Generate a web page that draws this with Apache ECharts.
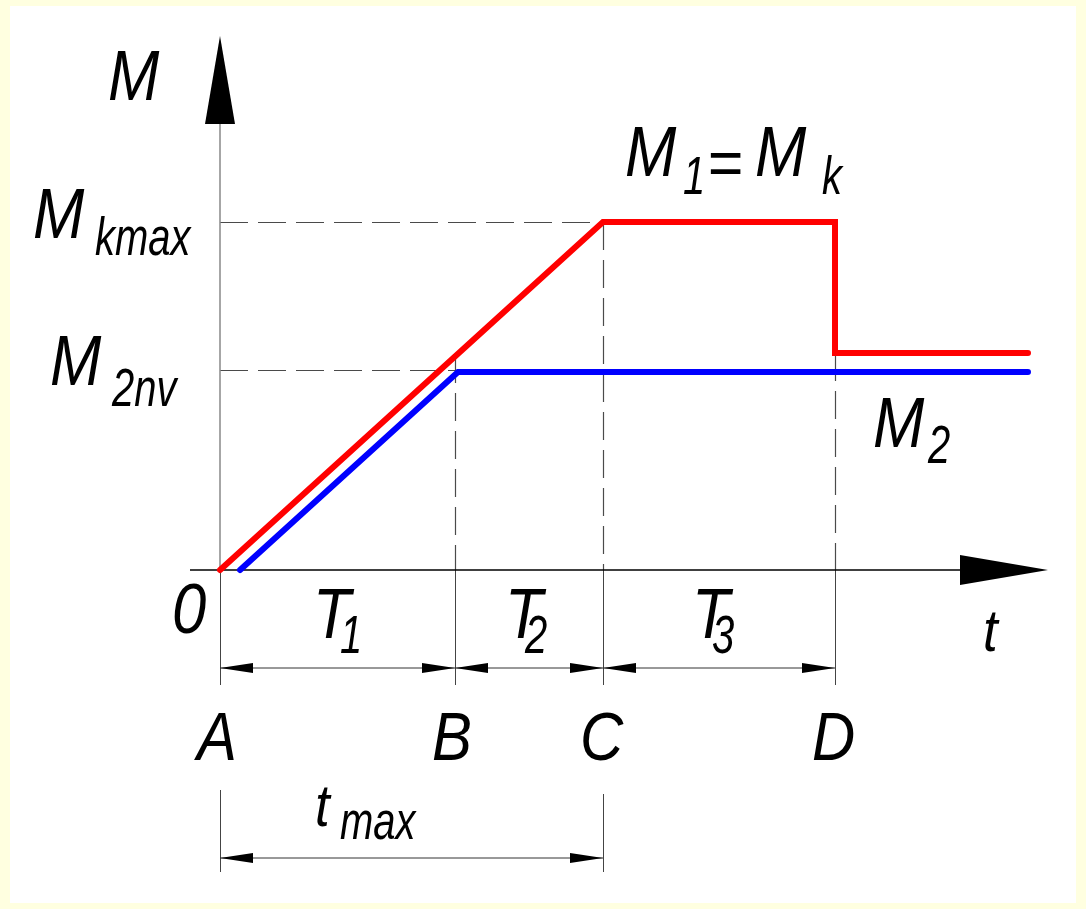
<!DOCTYPE html>
<html>
<head>
<meta charset="utf-8">
<script src="https://cdn.jsdelivr.net/npm/echarts@6/dist/echarts.min.js"></script>
<style>
html, body { margin: 0; padding: 0; background: #ffffe0; }
#main { width: 1086px; height: 909px; }
</style>
</head>
<body>
<div id="main"></div>
<script>
// marks on the t axis (picture units)
var markNames = ['A', 'B', 'C', 'D'];
var markTimes = [0, 235, 383, 615];
var tEnd = 808;
var tAxisEnd = 828;
var mAxisEnd = 534;

// torque levels
var mKmax = 348;
var m2nv = 200;
var m1Tail = 217;

// M1 = Mk (red) and M2 (blue)
var m1Points = [[0, 0], [383, 348], [615, 348], [615, 217], [808, 217]];
var m2Points = [[20, 0], [238, 198], [808, 198]];

// dashed helper lines
var guideLines = [
    [[0, mKmax], [383, mKmax]],
    [[0, m2nv], [235, m2nv]],
    [[235, 215], [235, 0]],
    [[383, mKmax], [383, 0]],
    [[615, m1Tail], [615, 0]]
];

// extension lines below the t axis: [t, from, to]
var extLines = [[0, 0, -115], [235, 0, -115], [383, 0, -115], [615, 0, -115], [0, -220, -302], [383, -224, -302]];

// dimension lines: [from, to, level]
var dimRows = [[0, 235, -98], [235, 383, -98], [383, 615, -98], [0, 383, -288]];

var FONT = "'Liberation Sans', Arial, sans-serif";
var BIG = 70, SMALL = 54;

var chart = echarts.init(document.getElementById('main'));

function label(text, x, base, size, sx) {
    return {
        type: 'text', x: x, y: base - 0.35 * size, z: 20,
        scaleX: sx || (size >= 60 ? 0.88 : 0.74),
        style: {
            text: text, fontSize: size, fontFamily: FONT, fontStyle: 'italic',
            fill: '#000', align: 'left', verticalAlign: 'middle'
        }
    };
}

function renderDim(params, api) {
    var a = api.coord([api.value(0), api.value(2)]);
    var b = api.coord([api.value(1), api.value(2)]);
    var L = 33, H = 5;
    return {
        type: 'group',
        children: [
            { type: 'line', shape: { x1: a[0], y1: a[1], x2: b[0], y2: b[1] }, style: { stroke: '#333', lineWidth: 1 } },
            { type: 'polygon', shape: { points: [[a[0], a[1]], [a[0] + L, a[1] - H], [a[0] + L, a[1] + H]] }, style: { fill: '#000' } },
            { type: 'polygon', shape: { points: [[b[0], b[1]], [b[0] - L, b[1] - H], [b[0] - L, b[1] + H]] }, style: { fill: '#000' } }
        ]
    };
}

// axis line with a solid arrow head at its end
function axisRenderer(color, width) {
    return function (params, api) {
        var a = api.coord([api.value(0), api.value(1)]);
        var b = api.coord([api.value(2), api.value(3)]);
        var dx = b[0] - a[0], dy = b[1] - a[1];
        var len = Math.sqrt(dx * dx + dy * dy);
        var ux = dx / len, uy = dy / len;
        var L = 88, H = 15;
        var bx = b[0] - ux * L, by = b[1] - uy * L;
        return {
            type: 'group',
            children: [
                { type: 'line', shape: { x1: a[0], y1: a[1], x2: bx, y2: by }, style: { stroke: color, lineWidth: width } },
                { type: 'polygon', shape: { points: [[b[0], b[1]], [bx - uy * H, by + ux * H], [bx + uy * H, by - ux * H]] }, style: { fill: '#000' } }
            ]
        };
    };
}

chart.setOption({
    backgroundColor: '#ffffe0',
    animation: false,
    grid: { left: 190, right: 38, top: 36, bottom: 29 },
    xAxis: { type: 'value', min: -30, max: tAxisEnd, show: false },
    yAxis: { type: 'value', min: -310, max: mAxisEnd, show: false },
    series: [
        {
            type: 'lines', coordinateSystem: 'cartesian2d', z: 2, silent: true,
            lineStyle: { color: '#4a4a4a', width: 1.2, type: [28, 10], opacity: 1 },
            data: guideLines.map(function (c) { return { coords: c }; })
        },
        {
            type: 'lines', coordinateSystem: 'cartesian2d', z: 2, silent: true,
            lineStyle: { color: '#444', width: 1, type: 'solid', opacity: 1 },
            data: extLines.map(function (e) { return { coords: [[e[0], e[1]], [e[0], e[2]]] }; })
        },
        {
            type: 'custom', renderItem: renderDim, clip: false, z: 3, silent: true,
            encode: { x: [0, 1], y: 2 }, data: dimRows
        },
        {
            type: 'custom', renderItem: axisRenderer('#000', 1.5), clip: false, z: 3, silent: true,
            encode: { x: [0, 2], y: [1, 3] }, data: [[-30, 0, tAxisEnd, 0]]
        },
        {
            type: 'custom', renderItem: axisRenderer('#888', 1.5), clip: false, z: 3, silent: true,
            encode: { x: [0, 2], y: [1, 3] }, data: [[0, 0, 0, mAxisEnd]]
        },
        {
            name: 'M1 = Mk', type: 'line', data: m1Points, symbol: 'none', z: 6,
            lineStyle: { color: '#ff0000', width: 6, cap: 'round', join: 'miter' }
        },
        {
            name: 'M2', type: 'line', data: m2Points, symbol: 'none', z: 5,
            lineStyle: { color: '#0000ff', width: 6, cap: 'round', join: 'miter' }
        }
    ]
});

// texts; letters under the marks are placed through the chart's own scale
var texts = [
    { type: 'rect', z: -10, shape: { x: 10, y: 6, width: 1066, height: 897 }, style: { fill: '#fff' } },
    label('M', 108, 105, BIG),
    label('M', 33, 243, BIG), label('kmax', 95, 259, SMALL),
    label('M', 50, 390, BIG), label('2nv', 112, 410, SMALL),
    label('M', 625, 181, BIG), label('1', 683, 198, SMALL), label('=', 707, 190, 64, 0.95),
    label('M', 755, 181, BIG), label('k', 822, 198, SMALL),
    label('M', 873, 452, BIG), label('2', 928, 467, SMALL),
    label('t', 983, 655, 60),
    label('0', 172, 638, BIG),
    label('T', 313, 643, BIG), label('1', 340, 657, SMALL),
    label('T', 505, 643, BIG), label('2', 525, 657, SMALL),
    label('T', 692, 643, BIG), label('3', 712, 657, SMALL),
    label('t', 315, 830, 60), label('max', 340, 843, SMALL)
];
markTimes.forEach(function (t, i) {
    var p = chart.convertToPixel({ gridIndex: 0 }, [t, 0]);
    texts.push(label(markNames[i], p[0] - 23, 765, 68));
});
chart.setOption({ graphic: texts });
</script>
</body>
</html>
